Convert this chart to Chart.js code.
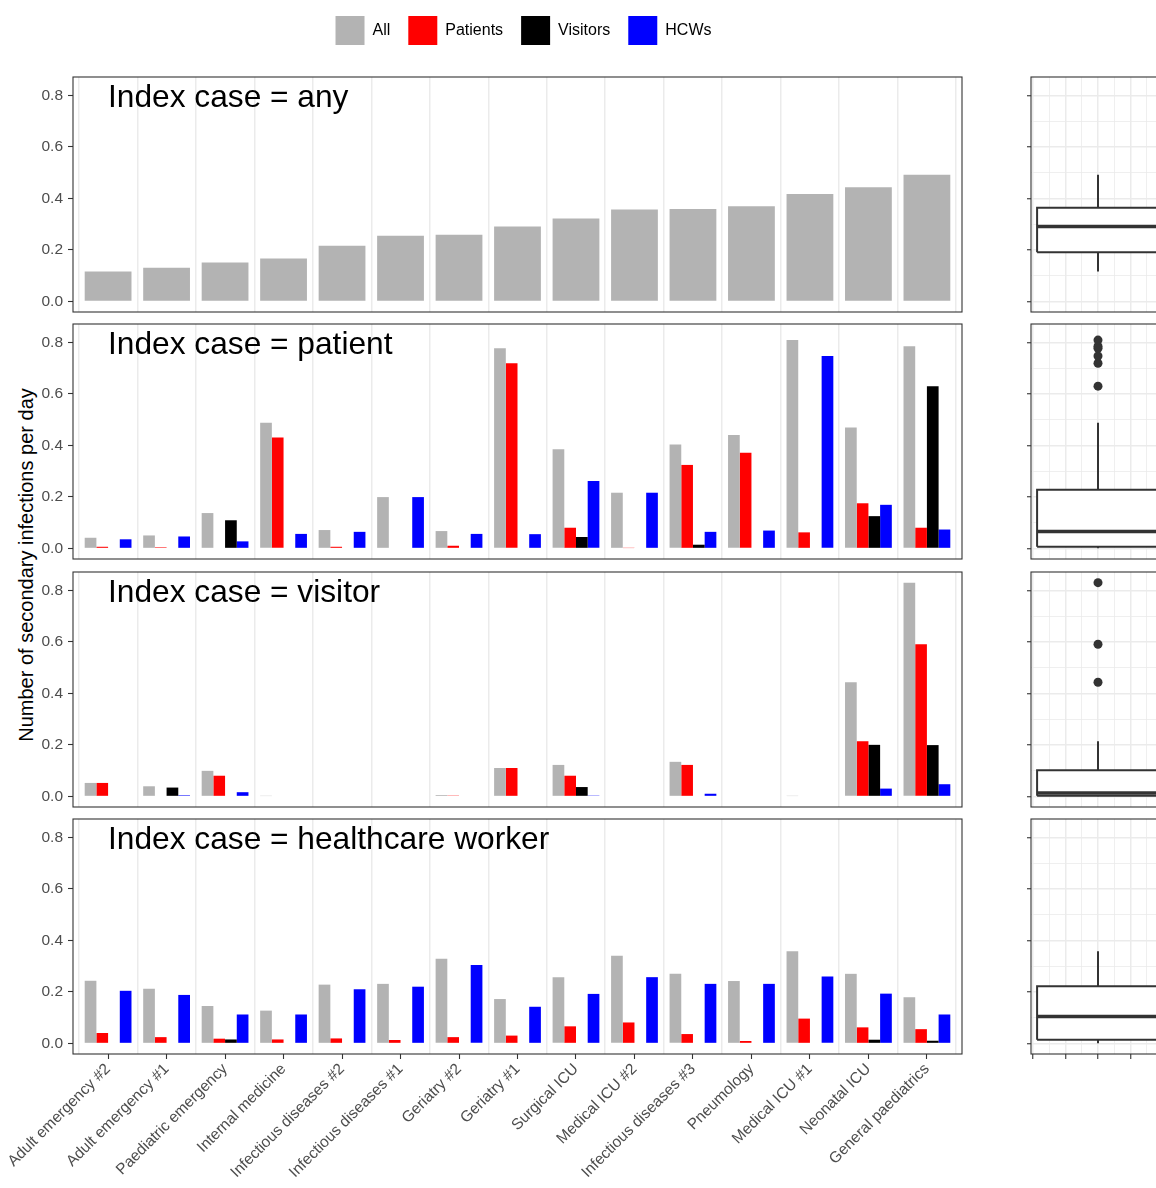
<!DOCTYPE html>
<html>
<head>
<meta charset="utf-8">
<script src="https://cdn.jsdelivr.net/npm/chart.js@4.4.1/dist/chart.umd.min.js"></script>
<style>
    html, body { margin: 0; padding: 0; background: #fff; overflow: hidden; }
    body { width: 1156px; height: 1188px; position: relative; }
    canvas { position: absolute; }
    #ytitle {
        position: absolute; left: 26px; top: 565px;
        transform: translate(-50%, -50%) rotate(-90deg);
        font: 20px "Liberation Sans", Arial, sans-serif; color: #000; white-space: nowrap;
    }
</style>
</head>
<body>
<div id="ytitle">Number of secondary infections per day</div>
<script>
// ---- data ----
const categories = ["Adult emergency #2", "Adult emergency #1", "Paediatric emergency", "Internal medicine",
    "Infectious diseases #2", "Infectious diseases #1", "Geriatry #2", "Geriatry #1", "Surgical ICU",
    "Medical ICU #2", "Infectious diseases #3", "Pneumology", "Medical ICU #1", "Neonatal ICU", "General paediatrics"];
const seriesNames = ["All", "Patients", "Visitors", "HCWs"];
const seriesColors = ["#b3b3b3", "#ff0000", "#000000", "#0000ff"];
const panelTitles = ["Index case = any", "Index case = patient", "Index case = visitor", "Index case = healthcare worker"];
const yTicks = [0, 0.2, 0.4, 0.6, 0.8];
const yMinorTicks = [0.1, 0.3, 0.5, 0.7];
const boxXBreaks = [-0.4, -0.2, 0, 0.2, 0.4];
const boxXMinor = [-0.3, -0.1, 0.1, 0.3];

const anyAll = [0.116, 0.130, 0.151, 0.166, 0.216, 0.255, 0.259, 0.291, 0.322, 0.357, 0.359, 0.369, 0.417, 0.443, 0.492];

const patientAll = [0.041, 0.050, 0.137, 0.488, 0.071, 0.199, 0.067, 0.777, 0.385, 0.216, 0.403, 0.440, 0.809, 0.469, 0.785];
const patientPatients = [0.006, 0.004, 0.002, 0.431, 0.006, 0, 0.010, 0.719, 0.080, 0.001, 0.324, 0.371, 0.062, 0.175, 0.080];
const patientVisitors = [0, 0, 0.109, 0, 0, 0, 0, 0.002, 0.044, 0, 0.014, 0, 0, 0.125, 0.630];
const patientHCWs = [0.035, 0.046, 0.027, 0.056, 0.064, 0.199, 0.056, 0.055, 0.262, 0.216, 0.064, 0.069, 0.747, 0.169, 0.073];

const visitorAll = [0.052, 0.039, 0.099, 0.001, null, null, 0.005, 0.110, 0.122, null, 0.134, null, 0.001, 0.443, 0.830];
const visitorPatients = [0.052, 0.002, 0.080, 0.002, null, null, 0.003, 0.110, 0.080, null, 0.122, null, 0, 0.214, 0.591];
const visitorVisitors = [0, 0.034, 0.002, 0, null, null, 0, 0, 0.036, null, 0.002, null, 0, 0.200, 0.199];
const visitorHCWs = [0, 0.004, 0.016, 0, null, null, 0.002, 0.002, 0.003, null, 0.010, null, 0.002, 0.030, 0.047];

const hcwAll = [0.243, 0.212, 0.145, 0.127, 0.228, 0.231, 0.329, 0.172, 0.257, 0.340, 0.270, 0.242, 0.358, 0.270, 0.179];
const hcwPatients = [0.040, 0.024, 0.018, 0.015, 0.019, 0.013, 0.024, 0.030, 0.066, 0.081, 0.036, 0.009, 0.096, 0.062, 0.055];
const hcwVisitors = [0, 0, 0.015, 0, 0, 0, 0, 0, 0.002, 0, 0.002, 0, 0, 0.014, 0.010];
const hcwHCWs = [0.204, 0.188, 0.112, 0.112, 0.210, 0.220, 0.304, 0.142, 0.192, 0.257, 0.231, 0.231, 0.260, 0.193, 0.112];

const panels = [
    [anyAll],
    [patientAll, patientPatients, patientVisitors, patientHCWs],
    [visitorAll, visitorPatients, visitorVisitors, visitorHCWs],
    [hcwAll, hcwPatients, hcwVisitors, hcwHCWs]
];

// ---- layout ----
const panelTops = [77, 324, 572, 819];
const panelHeight = 235;
const plotLeft = 73, plotRight = 962;
const boxCanvasLeft = 1021, boxLeft = 1031, boxRight = 1165;
const pageHeight = 1188;
const boxHalfWidth = 0.375;

Chart.defaults.font.family = '"Liberation Sans", Arial, sans-serif';
Chart.defaults.color = "#4d4d4d";

let maxVal = Math.max(...panels.flat(2).filter(v => v !== null));
const yMin = -maxVal * 0.05, yMax = maxVal * 1.05;
const xMin = 0.4, xMax = categories.length + 0.6;
const boxX = boxHalfWidth * 1.1;

const panelDecor = {
    id: "panelDecor",
    afterDraw(chart, args, opts) {
        let ctx = chart.ctx, a = chart.chartArea;
        ctx.save();
        ctx.strokeStyle = "#333333";
        ctx.lineWidth = 1.1;
        ctx.strokeRect(a.left, a.top, a.right - a.left, a.bottom - a.top);
        if (opts.title) {
            ctx.font = '31.7px "Liberation Sans", Arial, sans-serif';
            ctx.fillStyle = "#000";
            ctx.textBaseline = "alphabetic";
            ctx.fillText(opts.title, a.left + 35, a.top + 30);
        }
        ctx.restore();
    }
};

// fixed axis size, no label overflow padding
function fixSize(s, size) {
    if (s.isHorizontal()) s.height = size;
    else s.width = size;
    s.paddingTop = 0;
    s.paddingBottom = 0;
    s.paddingLeft = 0;
    s.paddingRight = 0;
}

function makeCanvas(left, top, width, height) {
    let c = document.createElement("canvas");
    c.width = width;
    c.height = height;
    c.style.left = left + "px";
    c.style.top = top + "px";
    c.style.width = width + "px";
    c.style.height = height + "px";
    document.body.appendChild(c);
    return c;
}

function boxStats(values) {
    let s = values.slice().sort((a, b) => a - b);
    let q = p => {
        let pos = (s.length - 1) * p, lo = Math.floor(pos), hi = Math.ceil(pos);
        return s[lo] + (s[hi] - s[lo]) * (pos - lo);
    };
    let q1 = q(0.25), med = q(0.5), q3 = q(0.75), iqr = q3 - q1;
    let inside = s.filter(v => v >= q1 - 1.5 * iqr && v <= q3 + 1.5 * iqr);
    return {
        q1, med, q3,
        lo: inside[0], hi: inside[inside.length - 1],
        outliers: s.filter(v => v < q1 - 1.5 * iqr || v > q3 + 1.5 * iqr)
    };
}

// legend (tall canvas so the legend box is not capped; it draws nothing else)
new Chart(makeCanvas(0, -2, 1047, 160), {
    type: "bar",
    data: {
        labels: [],
        datasets: seriesNames.map((n, i) => ({ label: n, data: [], backgroundColor: seriesColors[i], borderWidth: 0 }))
    },
    options: {
        responsive: false, animation: false, devicePixelRatio: 1,
        layout: { padding: 0, autoPadding: false },
        scales: { x: { display: false }, y: { display: false } },
        plugins: {
            tooltip: { enabled: false },
            legend: {
                position: "top",
                labels: { boxWidth: 29, boxHeight: 29, padding: 18, color: "#000", font: { size: 16 } }
            }
        }
    }
});

function barPanel(p) {
    let isBottom = p === panels.length - 1;
    let top = panelTops[p] - 1;
    let height = isBottom ? pageHeight - top : panelHeight + 2;
    let canvas = makeCanvas(0, top, plotRight + 13, height);

    let datasets = panels[p].map((vals, s) => ({
        label: seriesNames[s],
        data: vals.map((v, i) => ({ x: i + 1, y: v })),
        backgroundColor: seriesColors[s],
        borderWidth: 0,
        categoryPercentage: 0.8,
        barPercentage: 1
    }));

    new Chart(canvas, {
        type: "bar",
        data: { datasets },
        options: {
            responsive: false, animation: false, devicePixelRatio: 1,
            layout: { padding: { top: 1, bottom: 1, left: 0, right: 13 }, autoPadding: false },
            plugins: { legend: { display: false }, tooltip: { enabled: false }, panelDecor: { title: panelTitles[p] } },
            scales: {
                x: {
                    type: "linear", min: xMin, max: xMax, offset: false,
                    afterBuildTicks: s => { s.ticks = categories.map((c, i) => ({ value: i + 1 })); },
                    afterFit: s => fixSize(s, height - 2 - panelHeight),
                    grid: { offset: false, drawOnChartArea: false, drawTicks: isBottom, tickLength: 5, tickColor: "#333", tickWidth: 1.1 },
                    border: { display: false },
                    ticks: {
                        display: isBottom, autoSkip: false, minRotation: 45, maxRotation: 45, padding: 1,
                        color: "#4d4d4d", font: { size: 15.5 },
                        callback: v => categories[v - 1]
                    }
                },
                xg: {
                    type: "linear", position: "top", min: xMin, max: xMax, offset: false,
                    afterBuildTicks: s => { s.ticks = categories.concat([""]).map((c, i) => ({ value: i + 0.5 })); },
                    afterFit: s => fixSize(s, 0),
                    grid: { offset: false, color: "#ebebeb", lineWidth: 1.5, drawTicks: false },
                    border: { display: false },
                    ticks: { display: false }
                },
                y: {
                    min: yMin, max: yMax,
                    afterBuildTicks: s => { s.ticks = yTicks.map(v => ({ value: v })); },
                    afterFit: s => fixSize(s, plotLeft),
                    grid: { drawOnChartArea: false, tickLength: 5, tickColor: "#333", tickWidth: 1.1 },
                    border: { display: false },
                    ticks: { color: "#4d4d4d", font: { size: 15.5 }, padding: 5, callback: v => v.toFixed(1) }
                }
            }
        },
        plugins: [panelDecor]
    });
}

function boxPanel(p) {
    let isBottom = p === panels.length - 1;
    let top = panelTops[p] - 1;
    let height = panelHeight + 2 + (isBottom ? 8 : 0);
    let width = 175;
    let canvas = makeCanvas(boxCanvasLeft, top, width, height);
    let st = boxStats(panels[p].flat().filter(v => v !== null));
    let w = boxHalfWidth;
    let line = (data, extra) => Object.assign({
        data, borderColor: "#333333", borderWidth: 2, pointRadius: 0, fill: false, spanGaps: false
    }, extra);

    let datasets = [
        line([{ x: -w, y: st.q3 }, { x: w, y: st.q3 }], { borderWidth: 0, fill: { target: { value: st.q1 } }, backgroundColor: "#fff", order: 4 }),
        line([{ x: 0, y: st.q3 }, { x: 0, y: st.hi }, { x: 0, y: null }, { x: 0, y: st.q1 }, { x: 0, y: st.lo }], { order: 3 }),
        line([{ x: -w, y: st.q1 }, { x: w, y: st.q1 }, { x: w, y: st.q3 }, { x: -w, y: st.q3 }, { x: -w, y: st.q1 }], { order: 2 }),
        line([{ x: -w, y: st.med }, { x: w, y: st.med }], { borderWidth: 3.5, order: 1 }),
        line(st.outliers.map(v => ({ x: 0, y: v })), { showLine: false, pointRadius: 4.5, pointBackgroundColor: "#333333", pointBorderWidth: 0, order: 0 })
    ];

    let isMajorY = v => yTicks.includes(v);
    let isMajorX = v => boxXBreaks.includes(v);

    new Chart(canvas, {
        type: "line",
        data: { datasets },
        options: {
            responsive: false, animation: false, devicePixelRatio: 1,
            layout: { padding: { top: 1, bottom: 1, left: 0, right: width - (boxRight - boxCanvasLeft) }, autoPadding: false },
            plugins: { legend: { display: false }, tooltip: { enabled: false }, panelDecor: {} },
            scales: {
                x: {
                    type: "linear", min: -boxX, max: boxX,
                    afterBuildTicks: s => { s.ticks = boxXBreaks.concat(boxXMinor).sort((a, b) => a - b).map(v => ({ value: v })); },
                    afterFit: s => fixSize(s, height - 2 - panelHeight),
                    grid: {
                        color: "#ebebeb",
                        lineWidth: c => isMajorX(c.tick.value) ? 1.5 : 0.8,
                        drawTicks: isBottom, tickLength: 5, tickWidth: 1.1,
                        tickColor: c => isMajorX(c.tick.value) ? "#333" : "rgba(0,0,0,0)"
                    },
                    border: { display: false },
                    ticks: { display: false }
                },
                y: {
                    min: yMin, max: yMax,
                    afterBuildTicks: s => { s.ticks = yTicks.concat(yMinorTicks).sort((a, b) => a - b).map(v => ({ value: v })); },
                    afterFit: s => fixSize(s, boxLeft - boxCanvasLeft),
                    grid: {
                        color: "#ebebeb",
                        lineWidth: c => isMajorY(c.tick.value) ? 1.5 : 0.8,
                        tickLength: 4, tickWidth: 1.1,
                        tickColor: c => isMajorY(c.tick.value) ? "#333" : "rgba(0,0,0,0)"
                    },
                    border: { display: false },
                    ticks: { display: false }
                }
            }
        },
        plugins: [panelDecor]
    });
}

for (let p = 0; p < panels.length; p++) {
    barPanel(p);
    boxPanel(p);
}
</script>
</body>
</html>
